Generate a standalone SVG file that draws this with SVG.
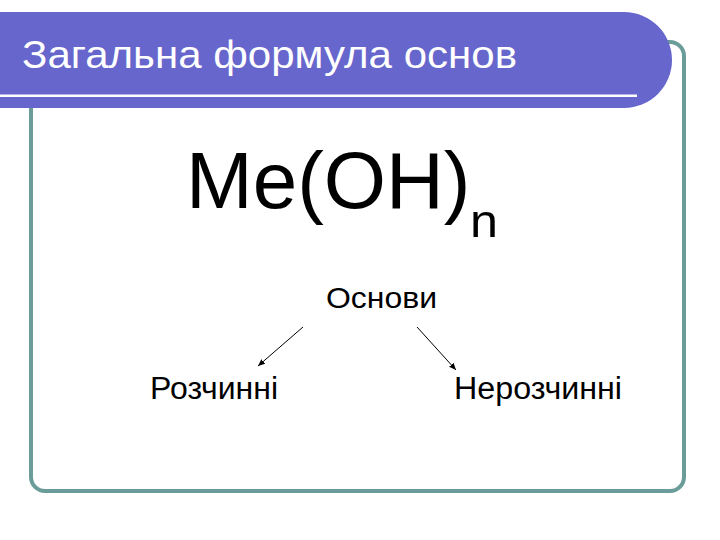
<svg xmlns="http://www.w3.org/2000/svg" width="720" height="540" viewBox="0 0 720 540">
<defs>
<style>
.t{font-family:"Liberation Sans",Arial,sans-serif;fill:#000}
.c{stroke:#000;stroke-width:1;fill:none}
</style>
<marker id="ah" markerWidth="8" markerHeight="8" refX="7" refY="4" orient="auto" markerUnits="userSpaceOnUse">
<path d="M0,1 L7,4 L0,7 Z" fill="#000"/>
</marker>
</defs>
<rect width="720" height="540" fill="#fff"/>
<rect id="frame" x="31" y="42" width="653" height="449" rx="14" fill="none" stroke="#6A9C9A" stroke-width="4"/>
<g id="title">
<path d="M0,12 H624 A48,48 0 0 1 624,108 H0 Z" fill="#6666CC"/>
<rect x="0" y="94.5" width="637" height="2.5" fill="#fff"/>
<text x="22" y="68" font-family="Liberation Sans,Arial,sans-serif" font-size="39" fill="#fff" textLength="495" lengthAdjust="spacingAndGlyphs">Загальна формула основ</text>
</g>
<g id="formula">
<text class="t" x="186" y="208" font-size="80">Me(OH)</text>
<text class="t" x="470" y="237" font-size="46" textLength="28" lengthAdjust="spacingAndGlyphs">n</text>
</g>
<g id="osnovy"><text class="t" x="326" y="308" font-size="30" textLength="111" lengthAdjust="spacingAndGlyphs">Основи</text></g>
<g id="rozchynni"><text class="t" x="150" y="399" font-size="31" textLength="128" lengthAdjust="spacingAndGlyphs">Розчинні</text></g>
<g id="nerozchynni"><text class="t" x="454" y="399" font-size="31" textLength="168" lengthAdjust="spacingAndGlyphs">Нерозчинні</text></g>
<g id="connectors">
<line class="c" x1="303" y1="327" x2="258" y2="366" marker-end="url(#ah)"/>
<line class="c" x1="417" y1="327" x2="456" y2="370" marker-end="url(#ah)"/>
</g>
</svg>
